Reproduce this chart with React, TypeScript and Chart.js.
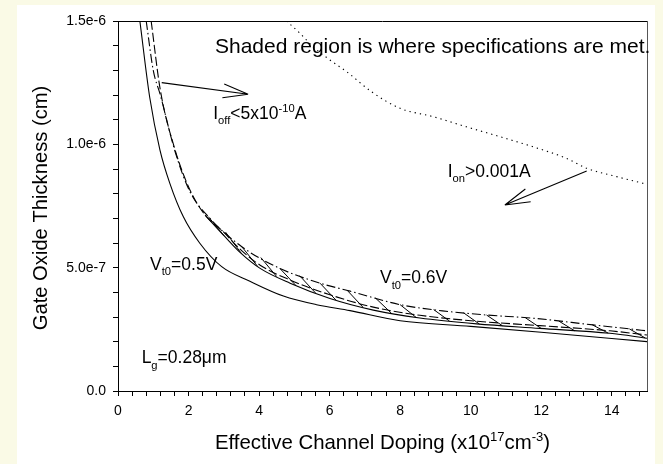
import React, { useEffect, useRef } from 'react';
import { Chart, registerables } from 'chart.js';

Chart.register(...registerables);

const FONT = '"Liberation Sans", Arial, Helvetica, sans-serif';

// Effective channel doping (x1e17 cm^-3) / gate oxide thickness (cm)
const dopingVt05 = [0.62, 0.90, 1.19, 1.47, 1.85, 2.32, 2.94, 3.74, 4.69, 5.63, 6.58, 8.00, 10.0, 12.0, 15.0];
const toxVt05 = [1.50e-6, 1.19e-6, 9.77e-7, 8.42e-7, 7.07e-7, 5.99e-7, 5.04e-7, 4.45e-7, 3.85e-7, 3.50e-7, 3.26e-7, 2.85e-7, 2.62e-7, 2.38e-7, 2.00e-7];

const dopingVt06 = [2.47, 2.99, 3.46, 4.03, 4.88, 6.01, 7.24, 8.56, 10.17, 11.96, 13.95, 15.0];
const toxVt06 = [7.13e-7, 6.32e-7, 5.62e-7, 4.97e-7, 4.37e-7, 3.75e-7, 3.28e-7, 2.96e-7, 2.72e-7, 2.54e-7, 2.34e-7, 2.14e-7];

const dopingIoff = [0.94, 1.20, 1.62, 2.04, 2.47, 2.99, 3.46, 4.03, 4.88, 6.01, 7.24, 8.56, 10.17, 11.96, 13.95, 15.0];
const toxIoff = [1.50e-6, 1.22e-6, 9.77e-7, 8.15e-7, 7.13e-7, 6.45e-7, 5.75e-7, 5.10e-7, 4.50e-7, 3.90e-7, 3.40e-7, 3.07e-7, 2.83e-7, 2.65e-7, 2.44e-7, 2.27e-7];

const dopingUpper = [0.80, 1.00, 1.20, 1.62, 2.04, 2.56, 3.51, 4.59, 5.73, 6.58, 8.00, 9.20, 10.45, 11.77, 13.47, 15.0];
const toxUpper = [1.50e-6, 1.30e-6, 1.20e-6, 9.70e-7, 8.08e-7, 7.07e-7, 5.85e-7, 4.97e-7, 4.37e-7, 4.05e-7, 3.50e-7, 3.25e-7, 3.08e-7, 2.95e-7, 2.68e-7, 2.44e-7];

const dopingIon = [4.78, 5.16, 5.53, 6.01, 6.48, 7.20, 8.00, 8.94, 9.88, 10.83, 11.77, 12.72, 13.29, 14.14, 15.0];
const toxIon = [1.50e-6, 1.45e-6, 1.396e-6, 1.342e-6, 1.295e-6, 1.212e-6, 1.146e-6, 1.112e-6, 1.071e-6, 1.031e-6, 9.90e-7, 9.43e-7, 9.03e-7, 8.69e-7, 8.38e-7];

// hatch strokes of the shaded region (doping where each stroke leaves the upper boundary)
const hatchStartDoping = [2.56, 3.05, 3.51, 4.05, 4.59, 5.15, 5.73, 6.50, 7.30, 8.00, 8.95, 9.80, 10.45, 11.55, 12.50, 13.45, 14.50];
const hatchRun = 0.45;

const xTickLabels = ['0', '2', '4', '6', '8', '10', '12', '14'];
const yTickLabels = ['0.0', '5.0e-7', '1.0e-6', '1.5e-6'];

function interp(xs: number[], ys: number[], x: number) {
  if (x <= xs[0]) return ys[0];
  for (let i = 1; i < xs.length; i++) {
    if (x <= xs[i]) {
      const t = (x - xs[i - 1]) / (xs[i] - xs[i - 1]);
      return ys[i - 1] + t * (ys[i] - ys[i - 1]);
    }
  }
  return ys[ys.length - 1];
}

const pts = (xs: number[], ys: number[]) => xs.map((x, i) => ({ x, y: ys[i] }));

type Part = { t: string; k: 'n' | 'sub' | 'sup' };

function drawRich(ctx: CanvasRenderingContext2D, parts: Part[], x: number, y: number, size: number, align: 'left' | 'center' = 'left') {
  const small = size * 0.64;
  let total = 0;
  for (const p of parts) {
    ctx.font = `${p.k === 'n' ? size : small}px ${FONT}`;
    total += ctx.measureText(p.t).width;
  }
  let cx = align === 'center' ? x - total / 2 : x;
  ctx.textAlign = 'left';
  ctx.textBaseline = 'alphabetic';
  for (const p of parts) {
    const s = p.k === 'n' ? size : small;
    ctx.font = `${s}px ${FONT}`;
    const dy = p.k === 'sub' ? size * 0.3 : p.k === 'sup' ? -size * 0.38 : 0;
    ctx.fillText(p.t, cx, y + dy);
    cx += ctx.measureText(p.t).width;
  }
}

function drawArrow(ctx: CanvasRenderingContext2D, x1: number, y1: number, x2: number, y2: number) {
  ctx.beginPath();
  ctx.moveTo(x1, y1);
  ctx.lineTo(x2, y2);
  const a = Math.atan2(y1 - y2, x1 - x2);
  for (const s of [-1, 1]) {
    ctx.moveTo(x2, y2);
    ctx.lineTo(x2 + 26 * Math.cos(a + s * 0.27), y2 + 26 * Math.sin(a + s * 0.27));
  }
  ctx.stroke();
}

const annotationPlugin = {
  id: 'annotations',
  afterDraw(chart: any) {
    const ctx: CanvasRenderingContext2D = chart.ctx;
    const xs = chart.scales.x;
    const ys = chart.scales.y;
    const X = (v: number) => xs.getPixelForValue(v);
    const Y = (v: number) => ys.getPixelForValue(v);
    const area = chart.chartArea;
    ctx.save();
    ctx.strokeStyle = '#000';
    ctx.fillStyle = '#000';
    ctx.lineWidth = 1;
    // top and right frame
    ctx.beginPath();
    ctx.moveTo(area.left, area.top + 0.5);
    ctx.lineTo(area.right, area.top + 0.5);
    ctx.stroke();
    ctx.strokeStyle = '#555';
    ctx.beginPath();
    ctx.moveTo(area.right + 0.5, area.top);
    ctx.lineTo(area.right + 0.5, area.bottom);
    ctx.stroke();
    ctx.strokeStyle = '#000';

    // arrows
    ctx.lineWidth = 1.1;
    drawArrow(ctx, X(1.24), Y(1.25e-6), X(3.69), Y(1.203e-6));
    drawArrow(ctx, X(13.29), Y(0.892e-6), X(10.97), Y(0.754e-6));

    // texts
    drawRich(ctx, [{ t: 'Shaded region is where specifications are met.', k: 'n' }], X(2.75), Y(1.37e-6), 21);
    drawRich(ctx, [{ t: 'I', k: 'n' }, { t: 'off', k: 'sub' }, { t: '<5x10', k: 'n' }, { t: '-10', k: 'sup' }, { t: 'A', k: 'n' }], X(2.70), Y(1.103e-6), 17.5);
    drawRich(ctx, [{ t: 'I', k: 'n' }, { t: 'on', k: 'sub' }, { t: '>0.001A', k: 'n' }], X(9.35), Y(0.869e-6), 17.5);
    drawRich(ctx, [{ t: 'V', k: 'n' }, { t: 't0', k: 'sub' }, { t: '=0.5V', k: 'n' }], X(0.91), Y(0.4905e-6), 17.5);
    drawRich(ctx, [{ t: 'V', k: 'n' }, { t: 't0', k: 'sub' }, { t: '=0.6V', k: 'n' }], X(7.43), Y(0.4366e-6), 17.5);
    drawRich(ctx, [{ t: 'L', k: 'n' }, { t: 'g', k: 'sub' }, { t: '=0.28\u03bcm', k: 'n' }], X(0.67), Y(0.1123e-6), 17.5);

    // axis titles
    drawRich(
      ctx,
      [{ t: 'Effective Channel Doping (x10', k: 'n' }, { t: '17', k: 'sup' }, { t: 'cm', k: 'n' }, { t: '-3', k: 'sup' }, { t: ')', k: 'n' }],
      (area.left + area.right) / 2,
      area.bottom + 57.5,
      20.4,
      'center'
    );
    ctx.save();
    ctx.translate(area.left - 71.5, (area.top + area.bottom) / 2 + 2);
    ctx.rotate(-Math.PI / 2);
    drawRich(ctx, [{ t: 'Gate Oxide Thickness (cm)', k: 'n' }], 0, 0, 20.2, 'center');
    ctx.restore();
    ctx.restore();
  },
};

export default function App() {
  const ref = useRef<HTMLCanvasElement | null>(null);
  useEffect(() => {
    if (!ref.current) return;
    const hatch: any[] = [];
    hatchStartDoping.forEach((x0) => {
      const x1 = x0 + hatchRun;
      hatch.push({ x: x0, y: interp(dopingUpper, toxUpper, x0) });
      hatch.push({ x: x1, y: interp(dopingVt06, toxVt06, x1) });
      hatch.push({ x: x1, y: null });
    });
    const line = (data: any[], dash: number[], width = 1.1) => ({
      data,
      borderColor: '#000',
      borderWidth: width,
      borderDash: dash,
      pointRadius: 0,
      fill: false,
      tension: 0.3,
      cubicInterpolationMode: 'monotone' as const,
    });
    const chart = new Chart(ref.current, {
      type: 'line',
      data: {
        datasets: [
          line(pts(dopingVt05, toxVt05), []),
          line(pts(dopingVt06, toxVt06), []),
          line(pts(dopingIoff, toxIoff), [9, 3]),
          line(pts(dopingUpper, toxUpper), [9, 3, 1.5, 3]),
          line(pts(dopingIon, toxIon), [1.3, 4]),
          { ...line(hatch, [], 1), tension: 0, spanGaps: false, cubicInterpolationMode: 'default' as const },
        ],
      },
      options: {
        animation: false,
        responsive: false,
        layout: { padding: { left: 0, right: 8, top: 16, bottom: 0 } },
        plugins: { legend: { display: false }, tooltip: { enabled: false } },
        scales: {
          x: {
            type: 'linear',
            min: 0,
            max: 15,
            afterFit: (s: any) => {
              s.height = 73;
            },
            afterBuildTicks: (s: any) => {
              const t = [];
              for (let i = 0; i <= 37; i++) t.push({ value: Math.round(i * 0.4 * 1000) / 1000 });
              s.ticks = t;
            },
            grid: { display: true, drawOnChartArea: false, drawTicks: true, tickLength: 5, color: '#000', lineWidth: 1 },
            border: { display: true, color: '#000', width: 1 },
            ticks: {
              autoSkip: false,
              maxRotation: 0,
              padding: 7,
              color: '#000',
              font: { family: FONT, size: 14 },
              callback: (v: any) => {
                const n = Number(v);
                const k = Math.round(n / 2);
                return Math.abs(n - k * 2) < 1e-6 ? xTickLabels[k] ?? '' : '';
              },
            },
          },
          y: {
            type: 'linear',
            min: 0,
            max: 1.5e-6,
            afterFit: (s: any) => {
              s.width = 101;
            },
            afterBuildTicks: (s: any) => {
              const t = [];
              for (let i = 0; i <= 15; i++) t.push({ value: i * 1e-7 });
              s.ticks = t;
            },
            grid: { display: true, drawOnChartArea: false, drawTicks: true, tickLength: 5, color: '#000', lineWidth: 1 },
            border: { display: true, color: '#000', width: 1 },
            ticks: {
              autoSkip: false,
              padding: 7,
              color: '#000',
              font: { family: FONT, size: 14 },
              callback: (_v: any, i: number) => (i % 5 === 0 ? yTickLabels[i / 5] : ''),
            },
          },
        },
      },
      plugins: [annotationPlugin],
    } as any);
    return () => chart.destroy();
  }, []);

  return (
    <div style={{ position: 'fixed', inset: 0, background: '#FAFAE6' }}>
      <div style={{ position: 'absolute', left: 17, top: 5, width: 638, height: 459, background: '#fff' }}>
        <canvas ref={ref} width={638} height={459} style={{ width: 638, height: 459, display: 'block' }} />
      </div>
    </div>
  );
}
